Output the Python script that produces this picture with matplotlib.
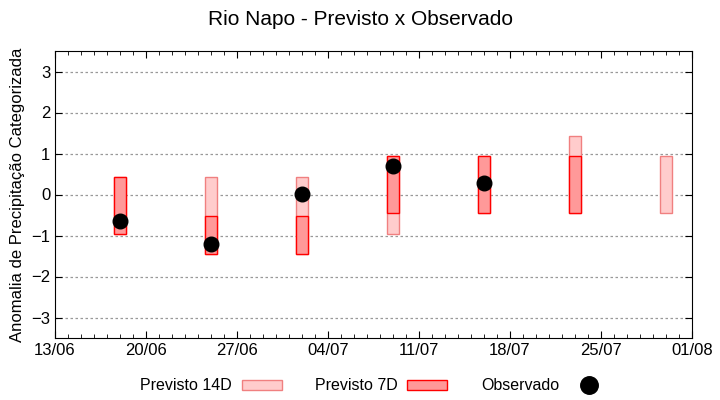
import matplotlib
matplotlib.use("Agg")
import matplotlib.pyplot as plt
import matplotlib.dates as mdates
import numpy as np
import pandas as pd

plt.rcParams['font.family'] = ['Liberation Sans', 'DejaVu Sans']

# forecast dates (weekly)
dates = pd.to_datetime(["2023-06-18", "2023-06-25", "2023-07-02", "2023-07-09",
                        "2023-07-16", "2023-07-23", "2023-07-30"])

# 14-day forecast range (lower / upper)
p14_low = [-0.96, -1.44, -1.44, -0.96, -0.45, -0.45, -0.45]
p14_high = [0.43, 0.43, 0.43, 0.94, 0.94, 1.43, 0.94]

# 7-day forecast range (lower / upper)
p7_low = [-0.96, -1.44, -1.44, -0.45, -0.45, -0.45, np.nan]
p7_high = [0.43, -0.52, -0.52, 0.94, 0.94, 0.94, np.nan]

# observed
obs = [-0.64, -1.20, 0.02, 0.70, 0.29, np.nan, np.nan]

fig = plt.figure(figsize=(7.2, 4.0), dpi=100)
ax = fig.add_axes([0.0764, 0.155, 0.8847, 0.7175])

h14 = np.array(p14_high) - np.array(p14_low)
h7 = np.array(p7_high) - np.array(p7_low)

b14 = ax.bar(dates, h14, bottom=p14_low, width=0.9, color="#ffcccc",
             edgecolor="#f08080", linewidth=1.0, label="Previsto 14D", zorder=2)
b7 = ax.bar(dates, h7, bottom=p7_low, width=0.9, color="#ff9999",
            edgecolor="red", linewidth=1.0, label="Previsto 7D", zorder=3)
ob, = ax.plot(dates, obs, "o", color="black", markersize=10.5,
              label="Observado", zorder=4)

ax.set_ylim(-3.5, 3.5)
ax.set_yticks(range(-3, 4))
ax.set_xlim(pd.Timestamp("2023-06-13"), pd.Timestamp("2023-08-01"))
ticks = pd.date_range("2023-06-13", "2023-08-01", freq="7D")
ax.set_xticks(ticks)
ax.xaxis.set_major_formatter(mdates.DateFormatter("%d/%m"))
ax.xaxis.set_minor_locator(mdates.DayLocator())

ax.tick_params(which="both", direction="in", top=True, right=True,
               labelsize=12)
ax.tick_params(which="major", length=5)
ax.tick_params(which="minor", length=3)
ax.grid(axis="y", linestyle=(0, (2, 2)), color="#999999", linewidth=0.9)
ax.set_axisbelow(True)

ax.set_ylabel("Anomalia de Precipitação Categorizada", fontsize=12)
fig.suptitle("Rio Napo - Previsto x Observado", fontsize=15, y=0.975)

fig.legend(handles=[b14, b7, ob], loc="center", bbox_to_anchor=(0.52, 0.035),
           ncol=3, frameon=False, markerfirst=False, handlelength=2.5,
           handletextpad=0.6, columnspacing=2.1, fontsize=11.5,
           handleheight=0.6, markerscale=1.2)

fig.savefig("out.png", dpi=100)
